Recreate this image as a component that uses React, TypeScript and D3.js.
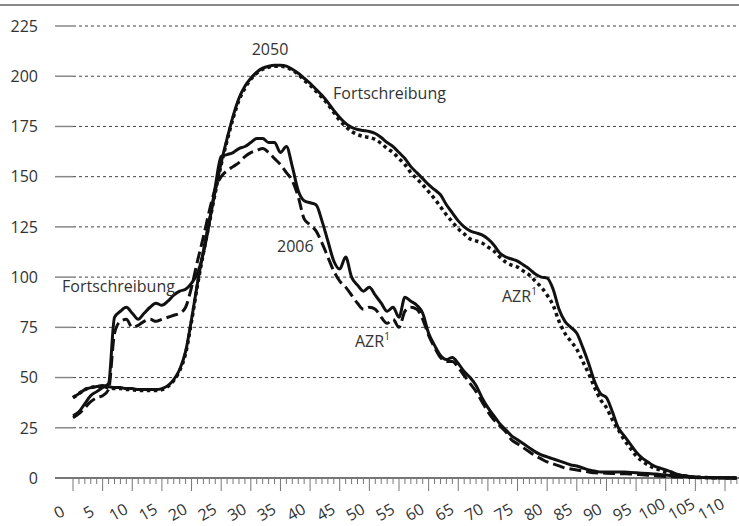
import React from "react";
import * as d3 from "d3";

const ages: number[] = d3.range(0, 113);

const pop2006Fortschreibung: number[] = [
  31, 33, 37, 41, 43, 45, 47, 80, 83, 85,
  82, 79, 82, 85, 87, 86, 88, 91, 93, 94,
  97, 102, 112, 127, 145, 160, 161, 162, 164, 165,
  167, 169, 169, 167, 167, 162, 165, 155, 143, 138,
  137, 136, 128, 118, 108, 104, 110, 100, 96, 93,
  95, 91, 87, 83, 85, 80, 90, 88, 86, 82,
  72, 66, 61, 59, 60, 57, 53, 50, 46, 40,
  35, 31, 27, 24, 21, 19, 17, 15, 13, 11.5,
  10.5, 9.5, 8.5, 7.5, 6.5, 6, 5, 4, 3.5, 3,
  3, 3, 3, 3, 2.8, 2.6, 2.4, 2.2, 2, 1.8,
  1.5, 1.2, 1, 0.8, 0.6, 0.4, 0.3, 0.2, 0.1, 0.1,
  0.1, 0, 0,
];

const pop2006AZR: number[] = [
  30, 32, 35, 38, 40, 41, 44, 72, 78, 79,
  75, 76, 78, 79, 78, 79, 80, 81, 82, 85,
  95, 108, 120, 133, 144, 150, 153, 155, 157, 160,
  162, 163, 164, 162, 159, 156, 152, 148, 140, 129,
  126, 123, 117, 110, 103, 98, 95, 91, 87, 84,
  85, 84, 80, 77, 79, 75, 83, 85, 84, 79,
  71, 65, 60, 58, 58, 55, 51, 47, 43, 38,
  33, 29, 26, 23, 19, 17, 15, 13, 11, 9.5,
  8, 7, 6, 5, 4.5, 4, 3.5, 3, 2.6, 2.5,
  2.4, 2.3, 2.2, 2.1, 2, 1.8, 1.6, 1.4, 1.2, 1,
  0.8, 0.6, 0.5, 0.4, 0.3, 0.2, 0.1, 0.1, 0.1, 0,
  0, 0, 0,
];

const pop2050Fortschreibung: number[] = [
  40, 42, 44, 45, 45.5, 46, 45.5, 45, 45, 44.5,
  44.5, 44, 44, 44, 44, 44.5, 46, 49, 54, 63,
  79, 97, 113, 128, 143, 157, 169, 180, 189, 195,
  199, 202, 204, 205, 205.5, 205.5, 205, 203.5, 201.5, 199,
  196.5, 193.5, 190.5, 187, 183, 179.5, 176.5, 174.5, 173.5, 173,
  172.5, 171.5, 169.5, 167, 165, 162, 159, 155, 152, 149,
  146, 143.5, 141, 136, 132, 128, 125, 123, 122, 121,
  119, 116, 112, 110, 109, 108, 106, 104, 101.5, 100,
  99.5, 94, 84, 78, 75, 72, 65, 57, 48, 42,
  40, 33, 25, 21, 17, 13, 10, 8, 6, 5,
  4, 3, 1.8, 1.2, 0.8, 0.5, 0.3, 0.2, 0.2, 0.1,
  0.1, 0.1, 0,
];

const pop2050AZR: number[] = [
  40, 42, 44, 45, 45.5, 45.5, 45, 44.5, 44.5, 44,
  44, 43.5, 43.5, 43.5, 43.5, 44, 45.5, 48.5, 53.5, 62,
  78, 96, 112, 127, 142, 156, 168, 179, 188, 194,
  198.5, 201.5, 203.5, 204.5, 205, 205, 204.5, 203, 201, 198,
  195.5, 192.5, 189.5, 186, 182, 178, 175, 172.5, 171, 170,
  169.5, 168.5, 166.5, 164, 162, 159, 156, 152, 149, 146,
  142.5, 139, 135, 131, 127.5, 124, 121.5, 119, 118, 117,
  115, 113, 110, 107.5, 106, 105, 103, 101, 98, 95,
  91, 86, 78, 72, 68, 64, 58, 52, 45, 39,
  35, 29, 24, 19, 15, 11, 8.5, 6.5, 5, 4,
  3, 2, 1.5, 1, 0.6, 0.4, 0.3, 0.2, 0.1, 0.1,
  0.1, 0, 0,
];

const yTicks: number[] = [0, 25, 50, 75, 100, 125, 150, 175, 200, 225];
const xLabelTicks: number[] = d3.range(0, 111, 5);

const FONT = "'Open Sans', 'DejaVu Sans', sans-serif";

export default function App() {
  const W = 739;
  const H = 526;
  const x = d3.scaleLinear().domain([0, 110]).range([73, 725]);
  const y = d3.scaleLinear().domain([0, 225]).range([478, 26]);

  const line = (vals: number[]) =>
    d3
      .line<number>()
      .x((_, i) => x(ages[i]))
      .y((v) => y(v))
      .curve(d3.curveMonotoneX)(vals) || "";

  const minorTicks = d3.range(0, 113);

  return (
    <svg
      width={W}
      height={H}
      style={{ position: "absolute", left: 0, top: 0, background: "#fff" }}
      fontFamily={FONT}
    >
      <rect x={0} y={0} width={W} height={H} fill="#fff" />
      <line x1={0} x2={W} y1={5} y2={5} stroke="#8a8a8a" strokeWidth={2} />

      {yTicks.map((t) => (
        <g key={t}>
          <text
            x={38}
            y={y(t)}
            dy="0.36em"
            textAnchor="end"
            fontSize={16}
            fill="#333"
          >
            {t}
          </text>
          {t > 0 && (
            <>
              <line x1={55} x2={73} y1={y(t)} y2={y(t)} stroke="#888" strokeWidth={1.5} />
              <line
                x1={73}
                x2={W}
                y1={y(t)}
                y2={y(t)}
                stroke="#444"
                strokeWidth={1}
                strokeDasharray="3,3"
              />
            </>
          )}
        </g>
      ))}

      {/* x axis */}
      <line x1={55} x2={W} y1={y(0)} y2={y(0)} stroke="#777" strokeWidth={2} />
      {minorTicks.map((a) => (
        <line
          key={a}
          x1={x(a)}
          x2={x(a)}
          y1={y(0)}
          y2={y(0) + (a % 5 === 0 ? 13 : 6)}
          stroke="#777"
          strokeWidth={1}
        />
      ))}
      {xLabelTicks.map((a) => (
        <text
          key={a}
          transform={`translate(${x(a) - 14},${a >= 100 ? 509 : 512}) rotate(-30)`}
          textAnchor="middle"
          dy="0.36em"
          fontSize={16}
          fill="#333"
        >
          {a}
        </text>
      ))}

      {/* lines */}
      <path d={line(pop2006AZR)} fill="none" stroke="#111" strokeWidth={3} strokeDasharray="12,5" />
      <path d={line(pop2006Fortschreibung)} fill="none" stroke="#111" strokeWidth={3} strokeLinejoin="round" />
      <path d={line(pop2050Fortschreibung)} fill="none" stroke="#111" strokeWidth={3} strokeLinejoin="round" />
      <path d={line(pop2050AZR)} fill="none" stroke="#111" strokeWidth={3.5} strokeDasharray="3.5,3.5" />

      {/* annotations */}
      <text x={270} y={55} textAnchor="middle" fontSize={16} fill="#333">2050</text>
      <text x={333} y={99} fontSize={16} fill="#333">Fortschreibung</text>
      <text x={62} y={292} fontSize={16} fill="#333">Fortschreibung</text>
      <text x={277} y={252} fontSize={16} fill="#333">2006</text>
      <text x={355} y={347} fontSize={16} fill="#333">
        AZR<tspan fontSize={10} dy={-7}>1</tspan>
      </text>
      <text x={502} y={302} fontSize={16} fill="#333">
        AZR<tspan fontSize={10} dy={-7}>1</tspan>
      </text>
    </svg>
  );
}
